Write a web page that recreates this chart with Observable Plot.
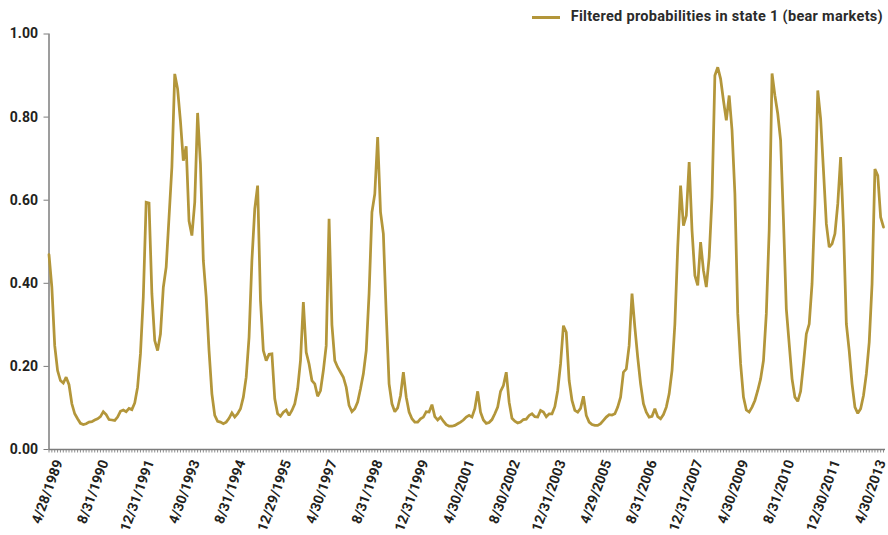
<!DOCTYPE html>
<html>
<head>
<meta charset="utf-8">
<script src="https://cdn.jsdelivr.net/npm/d3@7"></script>
<script src="https://cdn.jsdelivr.net/npm/@observablehq/plot@0.6"></script>
<style>
  body { margin: 0; background: #fff; font-family: Roboto, "Liberation Sans", sans-serif; }
  #legend { height: 26px; position: relative; }
  #legend .item { position: absolute; right: 5px; top: 7px; display: flex; align-items: center; gap: 11px;
    font-size: 14.5px; letter-spacing: 0.3px; font-weight: bold; color: #2b2b2b; line-height: 20px; white-space: nowrap; }
  #legend .swatch { width: 28px; height: 3px; }
  #chart svg { display: block; }
</style>
</head>
<body>
<div id="legend"></div>
<div id="chart"></div>
<script>
// ---- data ----
const seriesName = "Filtered probabilities in state 1 (bear markets)";
const lineColor = "#b3963a";

// monthly filtered probabilities, starting 4/28/1989
const values = [
  0.469, 0.39, 0.25, 0.19, 0.166, 0.16, 0.174, 0.156, 0.11, 0.086,
  0.074, 0.063, 0.06, 0.062, 0.066, 0.067, 0.071, 0.074, 0.079, 0.091,
  0.084, 0.072, 0.071, 0.07, 0.078, 0.092, 0.095, 0.091, 0.099, 0.096,
  0.112, 0.15, 0.23, 0.367, 0.595, 0.593, 0.375, 0.262, 0.238, 0.278,
  0.39, 0.439, 0.559, 0.68, 0.904, 0.868, 0.79, 0.695, 0.73, 0.55,
  0.515, 0.595, 0.81, 0.687, 0.455, 0.367, 0.238, 0.134, 0.082, 0.068,
  0.066, 0.062, 0.066, 0.075, 0.088, 0.078, 0.086, 0.098, 0.126, 0.174,
  0.27, 0.455, 0.579, 0.635, 0.359, 0.238, 0.214, 0.229, 0.23, 0.122,
  0.086, 0.08, 0.09, 0.095, 0.082, 0.094, 0.11, 0.146, 0.214, 0.355,
  0.234, 0.206, 0.166, 0.158, 0.128, 0.142, 0.19, 0.25, 0.555, 0.30,
  0.214, 0.198, 0.186, 0.174, 0.15, 0.106, 0.091, 0.098, 0.114, 0.146,
  0.182, 0.238, 0.375, 0.571, 0.615, 0.752, 0.571, 0.519, 0.326, 0.158,
  0.11, 0.091, 0.1, 0.13, 0.186, 0.126, 0.09, 0.074, 0.066, 0.066,
  0.074, 0.078, 0.091, 0.09, 0.108, 0.079, 0.071, 0.078, 0.068, 0.06,
  0.056, 0.056, 0.058, 0.062, 0.066, 0.071, 0.078, 0.082, 0.078, 0.098,
  0.14, 0.09, 0.071, 0.063, 0.065, 0.072, 0.086, 0.102, 0.14, 0.154,
  0.186, 0.114, 0.075, 0.068, 0.064, 0.066, 0.072, 0.073, 0.082, 0.086,
  0.079, 0.078, 0.094, 0.09, 0.079, 0.086, 0.086, 0.103, 0.142, 0.206,
  0.298, 0.282, 0.166, 0.118, 0.094, 0.09, 0.099, 0.128, 0.082, 0.066,
  0.06, 0.058, 0.058, 0.062, 0.07, 0.078, 0.084, 0.083, 0.086, 0.102,
  0.126, 0.186, 0.194, 0.25, 0.375, 0.294, 0.222, 0.158, 0.11, 0.09,
  0.078, 0.08, 0.098, 0.079, 0.074, 0.084, 0.102, 0.134, 0.19, 0.302,
  0.487, 0.635, 0.539, 0.563, 0.692, 0.527, 0.419, 0.395, 0.499, 0.431,
  0.391, 0.463, 0.607, 0.90, 0.92, 0.892, 0.84, 0.792, 0.852, 0.768,
  0.615, 0.327, 0.206, 0.126, 0.095, 0.09, 0.102, 0.118, 0.142, 0.17,
  0.214, 0.327, 0.527, 0.905, 0.852, 0.808, 0.744, 0.551, 0.338, 0.254,
  0.17, 0.126, 0.116, 0.14, 0.206, 0.278, 0.302, 0.399, 0.591, 0.864,
  0.796, 0.671, 0.543, 0.487, 0.495, 0.519, 0.591, 0.704, 0.535, 0.302,
  0.238, 0.158, 0.102, 0.087, 0.098, 0.13, 0.182, 0.258, 0.399, 0.675,
  0.659, 0.559, 0.535
];

// category labels shown every 16 months
const tickLabels = [
  "4/28/1989", "8/31/1990", "12/31/1991", "4/30/1993", "8/31/1994",
  "12/29/1995", "4/30/1997", "8/31/1998", "12/31/1999", "4/30/2001",
  "8/30/2002", "12/31/2003", "4/29/2005", "8/31/2006", "12/31/2007",
  "4/30/2009", "8/31/2010", "12/30/2011", "4/30/2013"
];
const tickEvery = 16;
const yTicks = [0, 0.2, 0.4, 0.6, 0.8, 1.0];

// ---- legend ----
const legend = document.getElementById("legend");
legend.innerHTML = `<div class="item"><div class="swatch" style="background:${lineColor}"></div><span>${seriesName}</span></div>`;

// ---- chart ----
const idx = values.map((_, i) => i);
const labelIdx = tickLabels.map((_, k) => k * tickEvery);
const axisGray = "#7c7c7c";
const textColor = "#231f20";

const chart = Plot.plot({
  width: 888,
  height: 509,
  marginLeft: 48.5,
  marginRight: 5,
  marginTop: 7.5,
  marginBottom: 86,
  x: { domain: [0, values.length - 1], axis: null },
  y: { domain: [0, 1], axis: null },
  style: { fontFamily: "Roboto, 'Liberation Sans', sans-serif", background: "white", overflow: "visible" },
  marks: [
    Plot.axisX({ ticks: idx, tickSize: 3.5, tickFormat: () => "", stroke: "#8c8c8c", fill: "none" }),
    Plot.ruleY([0], { x1: 0, x2: values.length - 0.3, stroke: axisGray, strokeWidth: 1.5 }),
    Plot.ruleX([0], { y1: 0, y2: 1, stroke: axisGray, strokeWidth: 1.5 }),
    Plot.axisY({ ticks: yTicks, tickSize: 5, tickPadding: 6, tickFormat: d3.format(".2f"),
      fontSize: 14, fontWeight: "bold", stroke: axisGray, fill: textColor }),
    Plot.text(labelIdx, { x: d => d, y: () => 0, text: (d, i) => tickLabels[i], rotate: -70,
      textAnchor: "end", dx: 9.7, dy: 11, fontSize: 14, fontWeight: "bold", fill: textColor }),
    Plot.line(values, { x: (d, i) => i, y: d => d, stroke: lineColor, strokeWidth: 2.75,
      strokeLinejoin: "miter", strokeMiterlimit: 2 })
  ]
});
document.getElementById("chart").appendChild(chart);
</script>
</body>
</html>
